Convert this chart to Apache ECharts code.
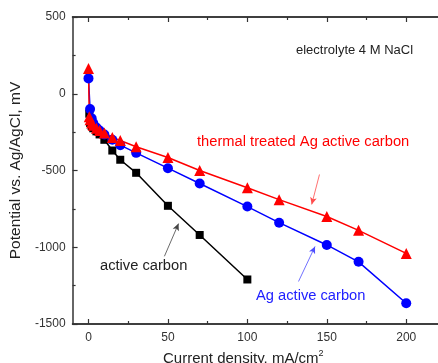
<!DOCTYPE html>
<html><head><meta charset="utf-8">
<script src="https://cdn.jsdelivr.net/npm/echarts@6/dist/echarts.min.js"></script>
<style>html,body{margin:0;padding:0;background:#fff}#c{width:438px;height:363px}</style>
</head><body><div id="c"></div>
<script>
// Data (x: current density mA/cm2, y: potential mV)
var activeCarbonX = [0.5, 1, 2, 3, 5, 7, 10, 15, 20, 30, 50, 70, 100];
var activeCarbonY = [-130, -190, -210, -225, -245, -265, -300, -370, -430, -515, -730, -920, -1210];
var agCarbonX = [0, 1, 2, 3, 5, 7, 10, 15, 20, 30, 50, 70, 100, 120, 150, 170, 200];
var agCarbonY = [100, -100, -160, -190, -220, -240, -265, -300, -335, -385, -485, -585, -735, -840, -985, -1095, -1365];
var thermalX = [0, 0.5, 1, 2, 3, 5, 7, 10, 15, 20, 30, 50, 70, 100, 120, 150, 170, 200];
var thermalY = [165, -150, -170, -190, -205, -225, -240, -255, -285, -305, -345, -415, -500, -612, -690, -800, -890, -1040];
var xMajorTicks = [0, 50, 100, 150, 200];
var xMinorTicks = [25, 75, 125, 175];

function pairs(xs, ys) { return xs.map(function (x, i) { return [x, ys[i]]; }); }

var font = 'Liberation Sans, Arial, sans-serif';
var axisColor = '#333';
function xAxisDef(pos, ticks, len, labels) {
  return {
    type: 'value', position: pos, min: -10, max: 220, gridIndex: 0,
    axisLine: { show: true, onZero: false, lineStyle: { color: axisColor, width: 1.5 } },
    axisTick: { show: true, inside: true, length: len, customValues: ticks, lineStyle: { color: axisColor, width: 1.2 } },
    axisLabel: labels ? { show: true, customValues: ticks, color: '#333', fontSize: 12, fontFamily: font, margin: 8 } : { show: false },
    splitLine: { show: false }
  };
}

var chart = echarts.init(document.getElementById('c'), null, { renderer: 'canvas' });
chart.setOption({
  animation: false,
  backgroundColor: '#fff',
  grid: { left: 71, top: 17, bottom: 39, right: -11.4, containLabel: false },
  xAxis: [
    xAxisDef('bottom', xMajorTicks, 5, true),
    xAxisDef('top', xMajorTicks, 5, false),
    xAxisDef('bottom', xMinorTicks, 3, false),
    xAxisDef('top', xMinorTicks, 3, false)
  ],
  yAxis: {
    type: 'value', min: -1500, max: 500, interval: 500, position: 'left',
    axisLine: { show: true, onZero: false, lineStyle: { color: axisColor, width: 1.5 } },
    axisTick: { show: true, inside: true, length: 5, lineStyle: { color: axisColor, width: 1.2 } },
    minorTick: { show: true, splitNumber: 2, length: 3, lineStyle: { color: axisColor, width: 1.2 } },
    axisLabel: { color: '#333', fontSize: 12, fontFamily: font, margin: 7, formatter: function (v) { return String(v); } },
    splitLine: { show: false },
    name: 'Potential vs. Ag/AgCl, mV', nameLocation: 'middle', nameGap: 42,
    nameTextStyle: { color: '#222', fontSize: 15.5, fontFamily: font }
  },
  graphic: [
    { type: 'text', left: 296, top: 44, style: { text: 'electrolyte 4 M NaCl', fill: '#222', font: '13px ' + font } },
    { type: 'text', left: 197, top: 134, style: { text: 'thermal treated Ag active carbon', fill: '#ff0000', font: '14.7px ' + font } },
    { type: 'text', left: 100, top: 258, style: { text: 'active carbon', fill: '#222', font: '14.7px ' + font } },
    { type: 'text', left: 256, top: 288, style: { text: 'Ag active carbon', fill: '#2020ff', font: '14.7px ' + font } },
    { type: 'text', left: 163, top: 349, style: {
        text: '{a|Current density, mA/cm}{s|2}',
        rich: { a: { fontSize: 15, fontFamily: font, fill: '#222' }, s: { fontSize: 9, fontFamily: font, fill: '#222', verticalAlign: 'top', padding: [0, 0, 10, 0] } }
      } }
  ],
  series: [
    {
      type: 'line', name: 'active carbon', data: pairs(activeCarbonX, activeCarbonY),
      symbol: 'rect', symbolSize: 8, color: '#000', lineStyle: { color: '#000', width: 1.5 },
      itemStyle: { color: '#000' },
      markLine: {
        silent: true, symbol: ['none', 'arrow'], symbolSize: [5, 7], label: { show: false },
        lineStyle: { color: '#444', width: 0.8, type: 'solid' },
        data: [[{ coord: [47.8, -1059] }, { coord: [56.7, -846] }]]
      }
    },
    {
      type: 'line', name: 'Ag active carbon', data: pairs(agCarbonX, agCarbonY),
      symbol: 'circle', symbolSize: 10, color: '#0000ff', lineStyle: { color: '#0000ff', width: 1.5 },
      itemStyle: { color: '#0000ff' },
      markLine: {
        silent: true, symbol: ['none', 'arrow'], symbolSize: [5, 7], label: { show: false },
        lineStyle: { color: '#4d4dff', width: 0.8, type: 'solid' },
        data: [[{ coord: [132.2, -1223] }, { coord: [142.6, -995] }]]
      }
    },
    {
      type: 'line', name: 'thermal treated Ag active carbon', data: pairs(thermalX, thermalY),
      symbol: 'triangle', symbolSize: 11, color: '#ff0000', lineStyle: { color: '#ff0000', width: 1.5 },
      itemStyle: { color: '#ff0000' },
      markLine: {
        silent: true, symbol: ['none', 'arrow'], symbolSize: [5, 7], label: { show: false },
        lineStyle: { color: '#ff4d4d', width: 0.8, type: 'solid' },
        data: [[{ coord: [145.4, -526] }, { coord: [140.5, -721] }]]
      }
    }
  ]
});
</script></body></html>
